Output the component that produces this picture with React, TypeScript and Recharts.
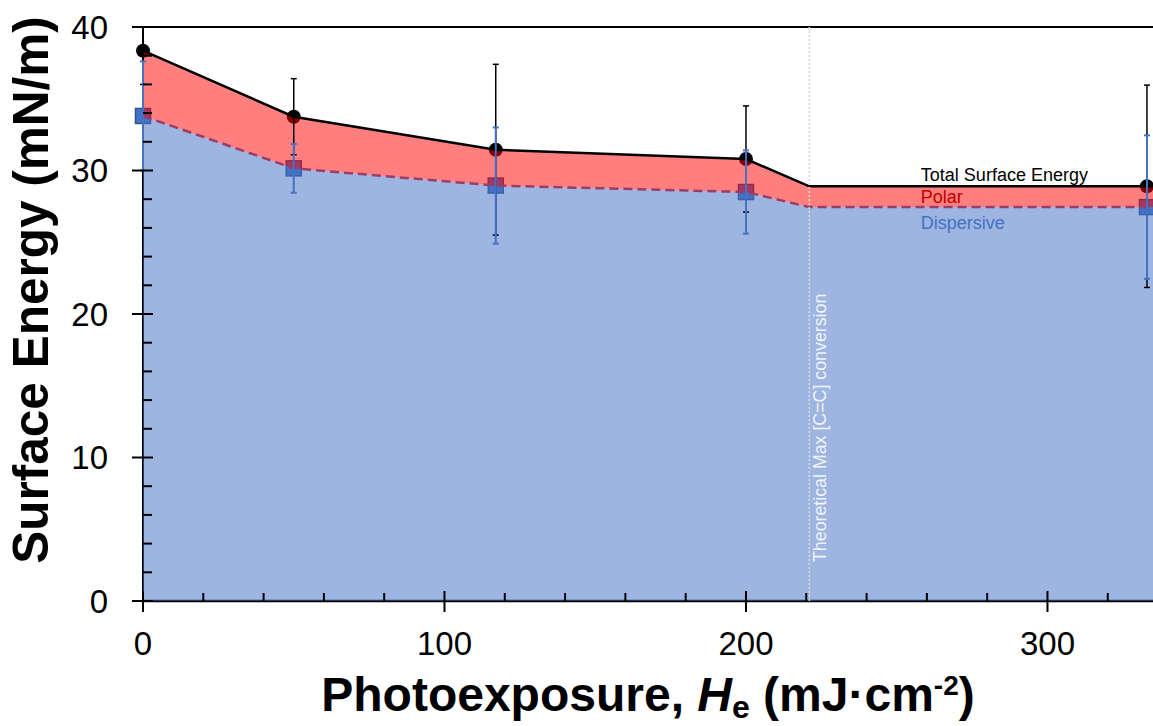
import React from 'react';
import { ComposedChart, Area, Line, Scatter, XAxis, YAxis, ErrorBar, ReferenceLine, ReferenceDot, Label } from 'recharts';

// measured conditions: photoexposure in mJ/cm²
const exposure = [0, 50, 117, 200, 333];
const totalEnergy = [38.35, 33.75, 31.45, 30.8, 28.9];
const totalErr = [[2.35, 1.65], [2.65, 2.65], [5.95, 5.95], [3.7, 3.7], [7.05, 7.05]];
const dispersiveEnergy = [33.8, 30.15, 28.95, 28.5, 27.45];
const dispersiveErr = [3.8, 1.7, 4.05, 2.9, 5.0];

// outline of the shaded bands, with the plateau past max conversion
const bandX = [0, 50, 117, 200, 221, 335];
const bandTotal = [38.35, 33.75, 31.45, 30.8, 28.9, 28.9];
const bandDispersive = [33.8, 30.15, 28.95, 28.5, 27.45, 27.45];

const maxConversion = 221;

const xTicks = [0, 20, 40, 60, 80, 100, 120, 140, 160, 180, 200, 220, 240, 260, 280, 300, 320];
const yTicks = [0, 2, 4, 6, 8, 10, 12, 14, 16, 18, 20, 22, 24, 26, 28, 30, 32, 34, 36, 38, 40];

const FONT = '"Liberation Sans", Arial, Helvetica, sans-serif';

const band = bandX.map((x, i) => ({ x, total: bandTotal[i], dispersive: bandDispersive[i] }));
const points = exposure.map((x, i) => ({
  x,
  total: totalEnergy[i],
  totalErr: totalErr[i],
  dispersive: dispersiveEnergy[i],
  dispersiveErr: dispersiveErr[i],
}));

const XTick = ({ x, y, payload }: any) => {
  const major = payload.value % 100 === 0;
  return (
    <g>
      <line x1={x} x2={x} y1={y - (major ? 10 : 8)} y2={y + (major ? 11 : 0)} stroke="#000" strokeWidth={2} />
      {major && (
        <text x={x} y={y + 54} textAnchor="middle" fontSize={33} fill="#000">
          {payload.value}
        </text>
      )}
    </g>
  );
};

const YTick = ({ x, y, payload }: any) => {
  const major = payload.value % 10 === 0;
  return (
    <g>
      <line x1={major ? x - 11 : x} x2={x + (major ? 10 : 9)} y1={y} y2={y} stroke="#000" strokeWidth={2} />
      {major && (
        <text x={x - 35} y={y + 11.5} textAnchor="end" fontSize={33} fill="#000">
          {payload.value}
        </text>
      )}
    </g>
  );
};

const xTitle = ({ viewBox }: any) => {
  const cx = viewBox.x + viewBox.width / 2;
  const y = viewBox.y + 110;
  return (
    <text x={cx} y={y} textAnchor="middle" fontSize={48} fontWeight="bold" fill="#000">
      Photoexposure, <tspan fontStyle="italic">H</tspan>
      <tspan fontSize={32} dy={7}>e</tspan>
      <tspan dy={-7}> (mJ·cm</tspan>
      <tspan fontSize={28} dy={-16}>-2</tspan>
      <tspan dy={16}>)</tspan>
    </text>
  );
};

const yTitle = ({ viewBox }: any) => {
  const x = viewBox.x + 48;
  const y = viewBox.y + 263;
  return (
    <text x={x} y={y} transform={`rotate(-90 ${x} ${y})`} textAnchor="middle" fontSize={49.5} fontWeight="bold" fill="#000">
      Surface Energy (mN/m)
    </text>
  );
};

const conversionLabel = ({ viewBox }: any) => {
  const x = viewBox.x + 17;
  const y = viewBox.y + viewBox.height - 39;
  return (
    <text x={x} y={y} transform={`rotate(-90 ${x} ${y})`} fontSize={17.8} fill="#f2f4fa">
      Theoretical Max [C=C] conversion
    </text>
  );
};

const noShape = () => <g />;
const circleShape = (p: any) => <circle cx={p.cx} cy={p.cy} r={7} fill="#000" />;
const squareShape = (p: any) => (
  <rect x={p.cx - 7.5} y={p.cy - 7.5} width={15} height={15} fill="#4472c4" stroke="#2f528f" strokeWidth={1.5} />
);

export default function App() {
  return (
    <div style={{ position: 'absolute', left: 0, top: 0, fontFamily: FONT }}>
      <ComposedChart width={1153} height={726} data={band} margin={{ top: 27, right: 0, bottom: 0, left: 0 }}>
        <XAxis
          type="number"
          dataKey="x"
          domain={[0, 335]}
          ticks={xTicks}
          interval={0}
          height={125}
          tickSize={0}
          tickMargin={0}
          tickLine={false}
          tick={<XTick />}
          axisLine={{ stroke: '#000', strokeWidth: 2.5 }}
          zIndex={50}
        >
          <Label content={xTitle} />
        </XAxis>
        <YAxis
          type="number"
          domain={[0, 40]}
          ticks={yTicks}
          interval={0}
          width={143}
          tickSize={0}
          tickMargin={0}
          tickLine={false}
          tick={<YTick />}
          axisLine={{ stroke: '#000', strokeWidth: 2 }}
          zIndex={50}
        >
          <Label content={yTitle} />
        </YAxis>

        <ReferenceLine y={40} stroke="#000" strokeWidth={2} zIndex={60} />

        {/* measured points with their error bars, beneath the translucent bands */}
        <Scatter data={points} dataKey="total" shape={noShape} isAnimationActive={false} zIndex={100}>
          <ErrorBar dataKey="totalErr" direction="y" width={3} stroke="#000" strokeWidth={1.5} />
        </Scatter>
        <Scatter data={points} dataKey="dispersive" shape={noShape} isAnimationActive={false} zIndex={110}>
          <ErrorBar dataKey="dispersiveErr" direction="y" width={3} stroke="#4472c4" strokeWidth={2} />
        </Scatter>
        <Scatter data={points} dataKey="total" shape={circleShape} isAnimationActive={false} zIndex={120} />
        <Scatter data={points} dataKey="dispersive" shape={squareShape} isAnimationActive={false} zIndex={130} />

        {/* dispersive part and polar part stacked on top of it */}
        <Area dataKey="dispersive" fill="#4472c4" fillOpacity={0.52} stroke="none" isAnimationActive={false} activeDot={false} zIndex={200} />
        <Area
          dataKey={(d: any) => [d.dispersive, d.total]}
          fill="#ff0000"
          fillOpacity={0.5}
          stroke="none"
          isAnimationActive={false}
          activeDot={false}
          zIndex={210}
        />

        <Line dataKey="dispersive" stroke="#9c3c6a" strokeWidth={2.5} strokeDasharray="9 5" dot={false} activeDot={false} isAnimationActive={false} zIndex={300} />
        <Line dataKey="total" stroke="#000" strokeWidth={2.5} dot={false} activeDot={false} isAnimationActive={false} zIndex={310} />

        <ReferenceLine x={maxConversion} stroke="#dcdcdc" strokeWidth={1.5} strokeDasharray="2 2" label={conversionLabel} zIndex={350} />

        <ReferenceDot x={258} y={29.71} r={0} fill="none" stroke="none" zIndex={400}
          label={{ value: 'Total Surface Energy', position: 'right', offset: 0, fill: '#000', fontSize: 18 }} />
        <ReferenceDot x={258} y={28.15} r={0} fill="none" stroke="none" zIndex={400}
          label={{ value: 'Polar', position: 'right', offset: 0, fill: '#c00000', fontSize: 18 }} />
        <ReferenceDot x={258} y={26.39} r={0} fill="none" stroke="none" zIndex={400}
          label={{ value: 'Dispersive', position: 'right', offset: 0, fill: '#4472c4', fontSize: 18 }} />
      </ComposedChart>
    </div>
  );
}
